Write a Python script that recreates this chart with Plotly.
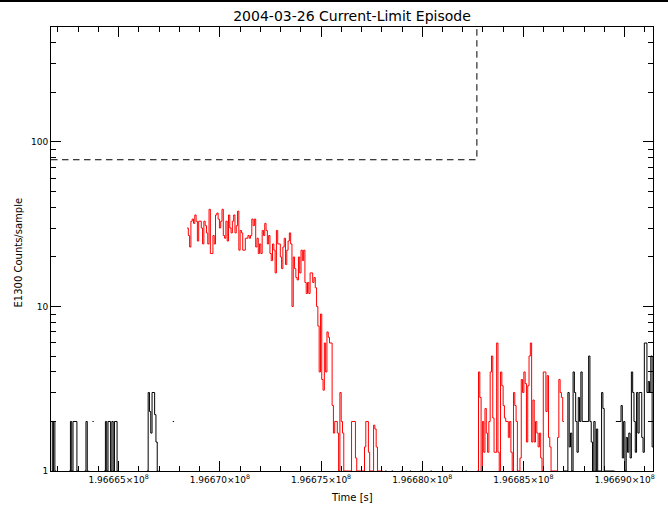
import math
import plotly.graph_objects as go

# ---------------- data ----------------
T0 = 196661660          # start time of the first sample [s]
DT = 64                 # sample length [s]
X_END = 196691400       # right end of the time axis [s]
Y_TOP = 500             # top of the count axis

# counts per sample; 0 = no counts (not drawn on the log axis)
black_pre = [  # samples 0-104
    2, 1, 2, 1, 0, 0, 0, 0, 0, 0,
    0, 0, 0, 0, 1, 2, 1, 2, 2, 2,
    1, 0, 0, 0, 0, 0, 1, 2, 1, 0,
    0, 0, 2, 0, 0, 0, 0, 0, 0, 0,
    0, 1, 2, 1, 2, 2, 1, 2, 1, 2,
    2, 1, 0, 0, 0, 0, 0, 0, 0, 0,
    0, 0, 0, 0, 0, 0, 0, 0, 0, 0,
    0, 0, 0, 0, 1, 3, 2.3, 1.7, 3, 3,
    2.2, 1.5, 1, 0, 0, 0, 0, 0, 0, 0,
    0, 0, 0, 0, 2, 0, 0, 0, 0, 0,
    0, 0, 0, 0, 0,
]
red_episode = [  # samples 105-255
    30, 27, 23, 33, 34, 32, 36, 33, 25, 33,
    33, 30, 24, 33, 31, 28, 24, 39, 21, 21,
    27, 24, 36, 37, 34, 30, 33, 39, 27, 26,
    33, 25, 36, 30, 28, 33, 36, 28, 31, 38,
    22, 29, 28, 22, 22, 26, 26, 27, 26, 27,
    34, 31, 34, 23, 26, 21, 24, 21, 29, 27,
    32, 29, 24, 27, 21, 19, 24, 22, 16, 29,
    24, 24, 20, 17, 23, 26, 18, 22, 25, 28,
    24, 10, 20, 17, 15, 14.5, 20, 16, 22, 19,
    22, 14, 12, 14, 12, 16, 16, 14, 15, 13,
    10, 7.6, 4, 9, 3.6, 3.1, 6, 4, 7, 6.5,
    6, 6, 2.5, 1.7, 2, 2, 1.7, 1, 3, 2,
    1.7, 1, 1, 1, 1, 1, 1, 2, 2, 2,
    1.2, 1, 1, 1, 1, 1, 1, 1.4, 2, 2,
    1.3, 1, 1, 1, 1.9, 1.8, 1.4, 1, 1, 1,
    1,
]
black_mid = [  # samples 256-328
    0, 0, 1, 0, 0, 0, 0, 1, 0, 0,
    0, 0, 0, 0, 1, 0, 0, 0, 0, 0,
    0, 1, 0, 0, 0, 0, 0, 0, 0, 1,
    0, 0, 0, 0, 0, 0, 0, 1, 0, 0,
    0, 0, 0, 0, 0, 0, 1, 0, 0, 0,
    0, 0, 0, 1, 0, 0, 0, 0, 0, 0,
    0, 0, 0, 0, 1, 0, 0, 0, 0, 0,
    0, 0, 0,
]
red_recovery = [  # samples 329-395
    1,
    4, 2.8, 1, 2, 1.3, 2.4, 1.7, 1.3, 2, 4,
    5, 2.1, 1.3, 1.3, 6, 1.3, 1, 4, 3.3, 2.5,
    2.1, 2, 2, 1.6, 2, 1.3, 1, 3, 2.5, 2,
    1, 1, 1.2, 3.6, 3, 4, 3.4, 1.5, 3.3, 5,
    6, 1.5, 2.7, 1.5, 2, 1.7, 1.4, 1.7, 1.2, 1,
    4, 4, 2.3, 3.8, 1.6, 1.4, 1, 1, 1, 1,
    1, 1.6, 3.6, 3, 2.8, 2,
]
black_post = [  # samples 396-464
    1, 1, 1, 3, 1.4, 1.7, 1, 4, 3, 2,
    1.3, 2.8, 2, 4, 2, 2, 2, 2, 2, 5,
    2, 1.5, 1, 2, 1, 1.8, 1, 1, 1, 3,
    2.4, 1, 1, 1, 1, 1, 1, 1, 1, 0,
    2, 2, 2, 2, 2.5, 1.2, 2, 1, 1.6, 1.3,
    1.7, 1.2, 4, 3, 2, 1.3, 3, 1.7, 3, 3,
    1.6, 1.3, 6, 6, 3, 3.5, 3, 5, 1.4,
]

# current-limit threshold (dashed)
threshold_t = [196661660, 196682700, 196682700, 196691420]
threshold_v = [78, 78, 5000, 5000]

black_segments = [(0, black_pre), (256, black_mid), (396, black_post)]
red_segments = [(105, red_episode), (329, red_recovery)]

x_major = [196665000, 196670000, 196675000, 196680000, 196685000, 196690000]
x_minor = [t for t in range(196662000, 196692000, 1000) if t not in x_major]
y_major = [1, 10, 100]
y_minor = [2, 3, 4, 5, 6, 7, 8, 9, 20, 30, 40, 50, 60, 70, 80, 90, 200, 300, 400]


# ---------------- helpers ----------------
def histogram_path(segments):
    """IDL psym=10 style steps; zero counts break the line."""
    xs, ys = [], []
    for start, vals in segments:
        open_run = False
        for j, v in enumerate(vals):
            left = T0 + (start + j) * DT
            if v > 0:
                xs += [left, left + DT]
                ys += [v, v]
                open_run = True
            elif open_run:
                xs.append(None)
                ys.append(None)
                open_run = False
        xs.append(None)
        ys.append(None)
    return xs, ys


bx, by = histogram_path(black_segments)
rx, ry = histogram_path(red_segments)

FONT = "DejaVu Sans"
AXIS = dict(showgrid=False, zeroline=False, showline=True, linecolor="black",
            linewidth=1, mirror="ticks", ticks="inside", ticklen=10,
            tickwidth=1, tickcolor="black", tickmode="array",
            tickfont=dict(family=FONT, size=9, color="black"))
MINOR = dict(ticks="inside", ticklen=5, tickwidth=1, tickcolor="black",
             showgrid=False)

fig = go.Figure()
fig.add_trace(go.Scatter(x=bx, y=by, mode="lines",
                         line=dict(color="black", width=1),
                         hoverinfo="skip", showlegend=False))
fig.add_trace(go.Scatter(x=rx, y=ry, mode="lines",
                         line=dict(color="#ff0000", width=1),
                         hoverinfo="skip", showlegend=False))
fig.add_trace(go.Scatter(x=threshold_t, y=threshold_v, mode="lines",
                         line=dict(color="black", width=1, dash="6.5px,4.5px"),
                         hoverinfo="skip", showlegend=False))

x_ticktext = [f"{v / 1e8:.5f}\u00d710<sup>8</sup>" for v in x_major]

fig.update_layout(
    template="none",
    width=668, height=511,
    margin=dict(l=51, r=15, t=27, b=40, pad=0),
    paper_bgcolor="white", plot_bgcolor="white",
    font=dict(family=FONT, size=9, color="black"),
    showlegend=False,
    title=dict(text="2004\u201003\u201026 Current\u2010Limit Episode",
               x=0.5, xref="paper", xanchor="center",
               y=1 - 16 / 511, yref="container", yanchor="middle",
               font=dict(family=FONT, size=14, color="black")),
    xaxis=dict(range=[T0, X_END], tickvals=x_major, ticktext=x_ticktext,
               minor=dict(tickvals=x_minor, **MINOR), **AXIS),
    yaxis=dict(type="log", range=[0, math.log10(Y_TOP)],
               tickvals=y_major, ticktext=[str(v) for v in y_major],
               minor=dict(tickvals=y_minor, **MINOR), **AXIS),
    annotations=[
        dict(text="E1300 Counts/sample", xref="paper", yref="paper",
             x=0, y=0.5, xanchor="center", yanchor="middle",
             xshift=-33.5, yshift=-4, textangle=-90, showarrow=False,
             font=dict(family=FONT, size=10, color="black")),
        dict(text="Time [s]", xref="paper", yref="paper",
             x=0.5, y=0, xanchor="center", yanchor="middle",
             yshift=-26, showarrow=False,
             font=dict(family=FONT, size=10, color="black")),
    ],
    shapes=[
        dict(type="rect", xref="paper", yref="paper",
             x0=-0.2, x1=1.2, y0=1 + 25 / 444, y1=1.2,
             fillcolor="black", line=dict(width=0), layer="above"),
    ],
)

fig.write_html("out.html")
